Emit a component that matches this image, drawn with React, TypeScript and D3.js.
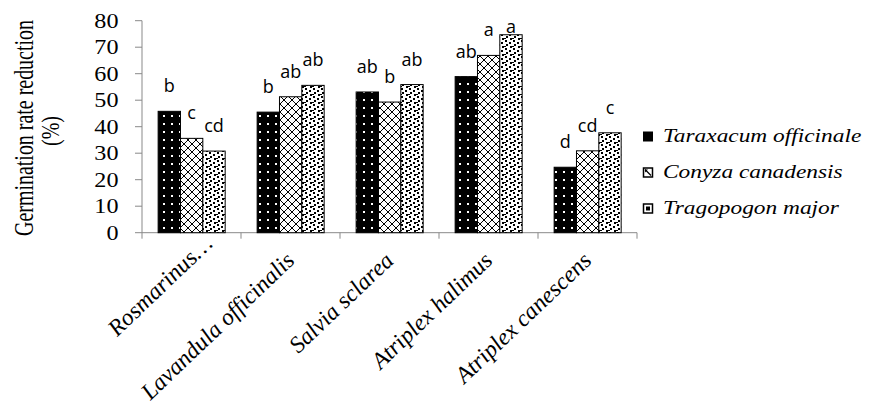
import React from "react";
import * as d3 from "d3";

const categories = [
  "Rosmarinus…",
  "Lavandula officinalis",
  "Salvia sclarea",
  "Atriplex halimus",
  "Atriplex canescens",
];
const seriesNames = ["Taraxacum officinale", "Conyza canadensis", "Tragopogon major"];
const taraxacum = [45.8, 45.5, 53.1, 58.9, 24.7];
const conyza = [35.6, 51.3, 49.3, 66.9, 30.9];
const tragopogon = [30.8, 55.6, 55.9, 74.7, 37.7];
const lettersTaraxacum = ["b", "b", "ab", "ab", "d"];
const lettersConyza = ["c", "ab", "b", "a", "cd"];
const lettersTragopogon = ["cd", "ab", "ab", "a", "c"];
const yTicks = [0, 10, 20, 30, 40, 50, 60, 70, 80];
const yTitle1 = "Germination rate reduction";
const yTitle2 = "(%)";

const W = 869;
const H = 411;
const AXIS = "#898989";
const SERIF = "Liberation Serif";
const SANS = "Open Sans";

export default function App() {
  const values = [taraxacum, conyza, tragopogon];
  const letters = [lettersTaraxacum, lettersConyza, lettersTragopogon];
  const fills = ["url(#patT)", "url(#patC)", "url(#patG)"];

  const x = d3.scaleBand<string>().domain(categories).range([142, 637]).padding(0);
  const bw = x.bandwidth();
  const xi = d3
    .scaleBand<string>()
    .domain(seriesNames)
    .range([bw * 0.163, bw * 0.84])
    .padding(0);
  const y = d3.scaleLinear().domain([0, 80]).range([232.7, 20.7]);
  const y0 = y(0);
  const boundaries = [...categories.map((c) => x(c) as number), 637];

  const serif = { fontFamily: SERIF };
  const serifI = { fontFamily: SERIF, fontStyle: "italic" as const };

  return (
    <svg
      width={W}
      height={H}
      style={{ position: "absolute", left: 0, top: 0, background: "#fff" }}
    >
      <defs>
        <pattern id="patT" width={8} height={8} patternUnits="userSpaceOnUse">
          <rect width={8} height={8} fill="#000" />
          <rect x={3} y={3} width={2} height={2} fill="#fff" />
        </pattern>
        <pattern id="patC" width={8} height={8} patternUnits="userSpaceOnUse">
          <rect width={8} height={8} fill="#fff" />
          <path d="M0,0L8,8M8,0L0,8" stroke="#000" strokeWidth={1} />
        </pattern>
        <pattern id="patG" width={8} height={8} patternUnits="userSpaceOnUse">
          <rect width={8} height={8} fill="#fff" />
          <rect x={1} y={0} width={2} height={2} fill="#000" />
          <rect x={5} y={2} width={2} height={2} fill="#000" />
          <rect x={2} y={4} width={2} height={2} fill="#000" />
          <rect x={6} y={6} width={2} height={2} fill="#000" />
          <rect x={0} y={6} width={2} height={1} fill="#000" />
        </pattern>
      </defs>

      {/* y axis */}
      <line x1={142} x2={142} y1={y(80)} y2={y0} stroke={AXIS} strokeWidth={1} />
      {yTicks.map((t) => (
        <g key={t}>
          <line x1={135} x2={142} y1={y(t)} y2={y(t)} stroke={AXIS} strokeWidth={1} />
          <g transform={`translate(118.5,${y(t) + 7}) scale(1.15,1)`}>
            <text textAnchor="end" style={serif} fontSize={21} fill="#000">
              {t}
            </text>
          </g>
        </g>
      ))}

      {/* x axis */}
      <line x1={142} x2={637} y1={y0} y2={y0} stroke={AXIS} strokeWidth={1} />
      {boundaries.map((b, i) => (
        <line key={i} x1={b} x2={b} y1={y0} y2={y0 + 6} stroke={AXIS} strokeWidth={1} />
      ))}

      {/* bars */}
      {categories.map((c, ci) =>
        seriesNames.map((s, si) => {
          const v = values[si][ci];
          const bx = (x(c) as number) + (xi(s) as number);
          const top = y(v);
          return (
            <rect
              key={c + s}
              x={bx}
              y={top}
              width={xi.bandwidth()}
              height={y0 - top}
              fill={fills[si]}
              stroke="#000"
              strokeWidth={1}
            />
          );
        })
      )}

      {/* letter labels */}
      {categories.map((c, ci) =>
        seriesNames.map((s, si) => {
          const v = values[si][ci];
          const cx = (x(c) as number) + (xi(s) as number) + xi.bandwidth() / 2;
          const by = Math.max(y(v) - 19, 33);
          return (
            <text
              key={"l" + c + s}
              x={cx}
              y={by}
              textAnchor="middle"
              style={{ fontFamily: SANS }}
              fontSize={18}
              fill="#000"
            >
              {letters[si][ci]}
            </text>
          );
        })
      )}

      {/* category labels */}
      {categories.map((c) => {
        const center = (x(c) as number) + bw / 2;
        const truncated = c.endsWith("…");
        const shift = truncated ? 24 : 0;
        const ax = center + 5.5 + shift * 0.707;
        const ay = 262 - shift * 0.707;
        return (
          <g key={"c" + c} transform={`translate(${ax},${ay}) scale(1.05,1)`}>
            <text
              transform="rotate(-45)"
              textAnchor="end"
              style={serifI}
              fontSize={23}
              fill="#000"
            >
              {c}
            </text>
          </g>
        );
      })}

      {/* y title */}
      <g transform="translate(33,128) scale(1.35,1)">
        <text
          transform="rotate(-90)"
          textAnchor="middle"
          style={serif}
          fontSize={20}
          textLength={216}
          lengthAdjust="spacing"
          fill="#000"
        >
          {yTitle1}
        </text>
      </g>
      <g transform="translate(59,131) scale(1.3,1)">
        <text transform="rotate(-90)" textAnchor="middle" style={serif} fontSize={20} fill="#000">
          {yTitle2}
        </text>
      </g>

      {/* legend */}
      {seriesNames.map((s, i) => {
        const base = 142 + i * 36;
        const sx = 643;
        const sy = base - 10.5;
        return (
          <g key={"lg" + s}>
            {i === 0 && <rect x={sx} y={sy} width={10} height={10} fill="#000" />}
            {i === 1 && (
              <g>
                <rect x={sx + 0.5} y={sy + 0.5} width={9} height={9} fill="#fff" stroke="#000" strokeWidth={1.5} />
                <path d={`M${sx + 2},${sy + 2}L${sx + 8},${sy + 8}`} stroke="#000" strokeWidth={1.2} />
                <path d={`M${sx + 2},${sy + 2}L${sx + 5},${sy + 2}L${sx + 2},${sy + 5}Z`} fill="#000" />
              </g>
            )}
            {i === 2 && (
              <g>
                <rect x={sx + 0.5} y={sy + 0.5} width={9} height={9} fill="#fff" stroke="#000" strokeWidth={1.5} />
                <rect x={sx + 3} y={sy + 3} width={4} height={4} fill="#000" />
              </g>
            )}
            <g transform={`translate(663,${base}) scale(1.23,1)`}>
              <text style={serifI} fontSize={19} fill="#000">
                {s}
              </text>
            </g>
          </g>
        );
      })}
    </svg>
  );
}
